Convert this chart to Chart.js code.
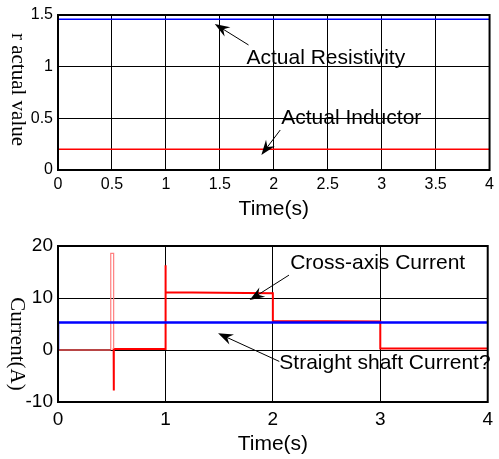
<!DOCTYPE html>
<html>
<head>
<meta charset="utf-8">
<script src="https://cdn.jsdelivr.net/npm/chart.js@4/dist/chart.umd.min.js"></script>
<style>
  body { margin: 0; background: #fff; }
  .panel { position: absolute; left: 0; }
</style>
</head>
<body>
<canvas id="topChart" class="panel" width="499" height="229" style="top:0"></canvas>
<canvas id="bottomChart" class="panel" width="499" height="230" style="top:229px"></canvas>
<script>
// Top panel: identified parameters
const topXTicks = [0, 0.5, 1, 1.5, 2, 2.5, 3, 3.5, 4]
const topYTicks = [0, 0.5, 1, 1.5]
const resistTime = [0, 4]
const resistValue = [1.46, 1.46]
const inductTime = [0, 4]
const inductValue = [0.2, 0.2]

// Bottom panel: currents
const botXTicks = [0, 1, 2, 3, 4]
const botYTicks = [-10, 0, 10, 20]
const directTime = [0, 0, 4]
const directValue = [0, 5.3, 5.3]
const quadTime = [0, 0.491, 0.491, 0.518, 0.518, 0.518, 0.521, 1.0, 1.0, 1.003, 1.5, 2.0, 2.0, 3.0, 3.0, 4.0]
const quadValue = [0, 0, 18.6, 18.6, 0.2, -7.8, 0.2, 0.2, 16.3, 11.1, 11.0, 10.9, 5.6, 5.5, 0.3, 0.3]

const SANS = 'Arial, "Liberation Sans", sans-serif'
const SERIF = '"Times New Roman", "Liberation Serif", serif'

const points = (xs, ys) => xs.map((x, i) => ({ x: x, y: ys[i] }))

// Arrow with a notched head, as MATLAB draws it
function drawArrow(ctx, x0, y0, x1, y1) {
  const a = Math.atan2(y1 - y0, x1 - x0)
  const c = Math.cos(a), s = Math.sin(a)
  ctx.beginPath()
  ctx.moveTo(x0, y0)
  ctx.lineTo(x1 - 9 * c, y1 - 9 * s)
  ctx.stroke()
  ctx.beginPath()
  ctx.moveTo(x1, y1)
  ctx.lineTo(x1 - 15 * c + 5.5 * s, y1 - 15 * s - 5.5 * c)
  ctx.lineTo(x1 - 10 * c, y1 - 10 * s)
  ctx.lineTo(x1 - 15 * c - 5.5 * s, y1 - 15 * s + 5.5 * c)
  ctx.closePath()
  ctx.fill()
}

// Frame, rotated y title and the text notes with arrows
const figurePlugin = {
  id: 'figure',
  afterDraw(chart, args, opts) {
    const ctx = chart.ctx
    const { left, top, right, bottom } = chart.chartArea
    const xs = chart.scales.x
    const ys = chart.scales.y

    ctx.save()
    ctx.strokeStyle = '#000'
    ctx.lineWidth = 2
    ctx.strokeRect(left, top, right - left, bottom - top)

    ctx.save()
    ctx.font = '21px ' + SERIF
    ctx.fillStyle = '#000'
    ctx.translate(opts.yTitleX, (top + bottom) / 2 + opts.yTitleShift)
    ctx.rotate(Math.PI / 2)
    ctx.textAlign = 'center'
    ctx.textBaseline = 'middle'
    ctx.fillText(opts.yTitle, 0, 0)
    ctx.restore()

    ctx.font = '21px ' + SANS
    ctx.fillStyle = '#000'
    ctx.strokeStyle = '#000'
    ctx.lineWidth = 1
    ctx.textAlign = 'left'
    ctx.textBaseline = 'middle'
    opts.notes.forEach(n => {
      ctx.fillText(n.text, xs.getPixelForValue(n.at[0]), ys.getPixelForValue(n.at[1]))
      drawArrow(ctx,
        xs.getPixelForValue(n.from[0]), ys.getPixelForValue(n.from[1]),
        xs.getPixelForValue(n.to[0]), ys.getPixelForValue(n.to[1]))
    })
    ctx.restore()
  }
}

function axis(ticks, fontSize, pad, fit, title, titlePad) {
  return {
    type: 'linear',
    min: ticks[0],
    max: ticks[ticks.length - 1],
    afterBuildTicks: s => { s.ticks = ticks.map(v => ({ value: v })) },
    afterFit: fit,
    grid: { color: '#000', lineWidth: 1, drawTicks: false },
    border: { display: false },
    ticks: {
      color: '#000',
      padding: pad,
      maxRotation: 0,
      autoSkip: false,
      font: { family: SANS, size: fontSize },
      callback: v => String(v)
    },
    title: {
      display: !!title,
      text: title || '',
      color: '#000',
      font: { family: SANS, size: 21 },
      padding: { top: 0, bottom: titlePad || 0 }
    }
  }
}

const baseOptions = {
  responsive: false,
  devicePixelRatio: 1,
  animation: false,
  plugins: { legend: { display: false }, tooltip: { enabled: false } }
}

new Chart(document.getElementById('topChart'), {
  type: 'line',
  data: {
    datasets: [
      { data: points(resistTime, resistValue), borderColor: '#0000ff', borderWidth: 1.5, pointRadius: 0 },
      { data: points(inductTime, inductValue), borderColor: '#ff0000', borderWidth: 1.5, pointRadius: 0 }
    ]
  },
  options: Object.assign({}, baseOptions, {
    layout: { padding: { top: 15, right: 6, left: 0, bottom: 0 } },
    scales: {
      x: axis(topXTicks, 16, 5, s => { s.height = 59 }, 'Time(s)', 7),
      y: axis(topYTicks, 16, 5, s => { s.width = 58 })
    },
    plugins: Object.assign({}, baseOptions.plugins, {
      figure: {
        yTitle: 'r actual value',
        yTitleX: 18,
        yTitleShift: -3,
        notes: [
          { text: 'Actual Resistivity', at: [1.747, 1.084], from: [1.766, 1.21], to: [1.453, 1.413] },
          { text: 'Actual Inductor', at: [2.069, 0.503], from: [2.06, 0.387], to: [1.885, 0.145] }
        ]
      }
    })
  }),
  plugins: [figurePlugin]
})

// the cross-axis trace is split into its start, the thin start-up spike and the rest
const quadPoints = points(quadTime, quadValue)

new Chart(document.getElementById('bottomChart'), {
  type: 'line',
  data: {
    datasets: [
      { data: points(directTime, directValue), borderColor: '#0000ff', borderWidth: 2.5, pointRadius: 0 },
      { data: quadPoints.slice(0, 2), borderColor: '#b84545', borderWidth: 2, pointRadius: 0 },
      { data: quadPoints.slice(1, 5), borderColor: '#ff7f7f', borderWidth: 1.2, pointRadius: 0 },
      { data: quadPoints.slice(4), borderColor: '#ff0000', borderWidth: 2, pointRadius: 0 }
    ]
  },
  options: Object.assign({}, baseOptions, {
    layout: { padding: { top: 17, right: 6, left: 0, bottom: 0 } },
    scales: {
      x: axis(botXTicks, 19, 6, s => { s.height = 57 }, 'Time(s)', 2),
      y: axis(botYTicks, 19, 5, s => { s.width = 58 })
    },
    plugins: Object.assign({}, baseOptions.plugins, {
      figure: {
        yTitle: 'Current(A)',
        yTitleX: 17,
        yTitleShift: 20,
        notes: [
          { text: 'Cross-axis Current', at: [2.161, 16.7], from: [2.15, 14.4], to: [1.784, 9.6] },
          { text: 'Straight shaft Current?', at: [2.06, -2.5], from: [2.06, -2.2], to: [1.49, 3.2] }
        ]
      }
    })
  }),
  plugins: [figurePlugin]
})
</script>
</body>
</html>
